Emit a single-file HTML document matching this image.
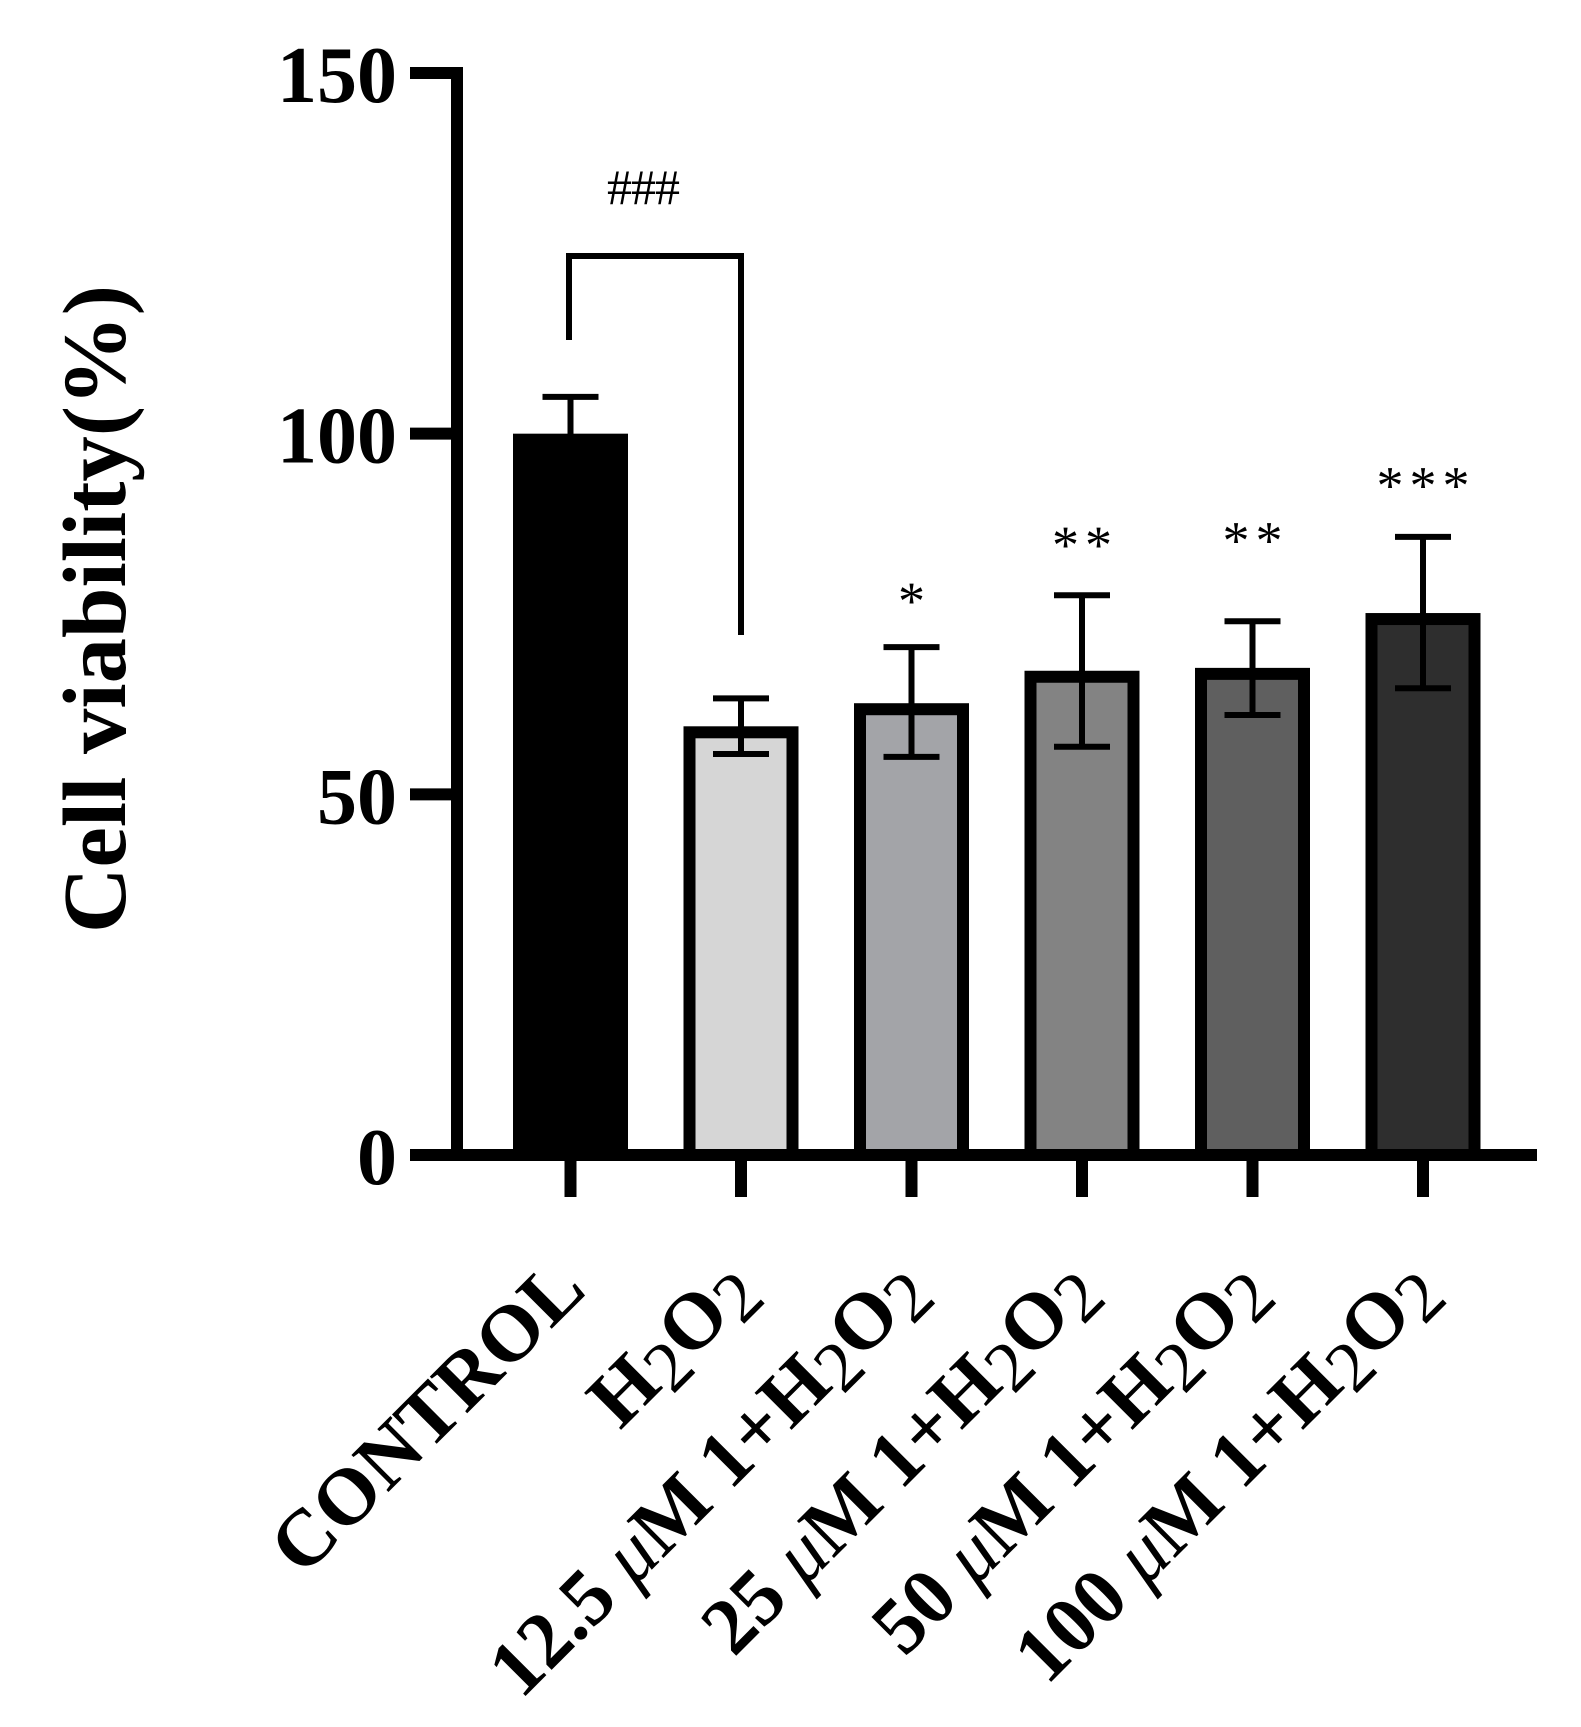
<!DOCTYPE html>
<html><head><meta charset="utf-8">
<style>
html,body{margin:0;padding:0;background:#fff;}
svg{display:block;}
text{font-family:"Liberation Serif",serif;}
</style></head>
<body>
<svg id="chart" width="1581" height="1727" viewBox="0 0 1581 1727" xmlns="http://www.w3.org/2000/svg">
<g id="axes"></g>
<g id="bars"></g>
<g id="labels"></g>
<text transform="translate(125,609) rotate(-90)" text-anchor="middle" font-size="90" font-weight="bold" textLength="648" lengthAdjust="spacingAndGlyphs">Cell viability(%)</text>
<path d="M569,340 V256 H741 V635" fill="none" stroke="#000" stroke-width="6"/>
<text x="643" y="204" text-anchor="middle" font-size="50" letter-spacing="-1">###</text>
</svg>
<script>
const categories = ["CONTROL","H2O2","12.5 μM 1+H2O2","25 μM 1+H2O2","50 μM 1+H2O2","100 μM 1+H2O2"];
const means = [100, 58.6, 61.8, 66.3, 66.7, 74.3];
const errUpper = [105.1, 63.3, 70.4, 77.6, 74.0, 85.7];
const errLower = [95, 55.6, 55.2, 56.6, 61.0, 64.7];
const stars = ["", "", "*", "**", "**", "***"];
const starValues = [0, 0, 77.9, 85.7, 86.3, 93.9];
const yTicks = [0, 50, 100, 150];
const fills = ["#000000","#d6d6d6","#a3a4a8","#838383","#5f5f5f","#2e2e2e"];

const NS = "http://www.w3.org/2000/svg";
const y0 = 1155, yTop = 73, vMax = 150;
function yScale(v){ return y0 - v*(y0-yTop)/vMax; }
function xScale(i){ return 570.5 + i*170.5; }
function mk(tag, attrs, parent){ const e=document.createElementNS(NS,tag); for(const k in attrs) e.setAttribute(k,attrs[k]); parent.appendChild(e); return e; }

const axes = document.getElementById('axes');
let yl = mk('line',{x1:457,y1:67,x2:457,y2:1161,stroke:'#000','stroke-width':12},axes);


let xl = mk('line',{x1:410,y1:1155,x2:1537,y2:1155,stroke:'#000','stroke-width':12},axes);


yTicks.forEach(t=>{
  const y=yScale(t);
  const tk=mk('line',{x1:410,y1:y,x2:457,y2:y,stroke:'#000','stroke-width':12},axes);
  
  
  const lb=mk('text',{x:397,y:y+29,'text-anchor':'end','font-size':80,'font-weight':'bold'},axes);
  lb.textContent=String(t);
  
  
});

const bars=document.getElementById('bars');
const labels=document.getElementById('labels');
const bw=115;
categories.forEach((c,i)=>{
  const cx=xScale(i), top=yScale(means[i]);
  let r;
  if(i===0){
    r=mk('rect',{x:cx-bw/2,y:top,width:bw,height:y0-top,fill:fills[i]},bars);
  } else {
    r=mk('rect',{x:cx-bw/2+6,y:top,width:bw-12,height:y0-top,fill:fills[i],stroke:'#000','stroke-width':12},bars);
  }
  
  
  const eu=yScale(errUpper[i]), el=yScale(errLower[i]);
  const eb=mk('path',{d:`M${cx},${eu} V${el} M${cx-28},${eu} H${cx+28} M${cx-28},${el} H${cx+28}`,stroke:'#000','stroke-width':6,fill:'none'},bars);
  
  
  const tk=mk('line',{x1:cx,y1:1155,x2:cx,y2:1197,stroke:'#000','stroke-width':12},bars);
  
  
  if(stars[i]){
    const s=mk('text',{x:cx+3,y:yScale(starValues[i])+26,'text-anchor':'middle','font-size':54,'letter-spacing':6},bars);
    s.textContent=stars[i];
    
    
  }
  const t=mk('text',{transform:`translate(${cx+18},1292) rotate(-45)`,'text-anchor':'end','font-size':80,'font-weight':'bold'},labels);
  
  
  const parts=c.replace('H2O2','H\u2082O\u2082').split(/(μ|\u2082)/);
  parts.forEach(p=>{
    if(!p) return;
    const sp=document.createElementNS(NS,'tspan');
    if(p==='μ'){ sp.setAttribute('font-style','italic'); sp.setAttribute('font-weight','normal'); sp.textContent='μ'; }
    else if(p==='\u2082'){ sp.setAttribute('font-weight','normal'); sp.setAttribute('baseline-shift','-12'); sp.setAttribute('font-size','72'); sp.textContent='2'; }
    else sp.textContent=p;
    t.appendChild(sp);
  });
});
</script>
</body></html>
